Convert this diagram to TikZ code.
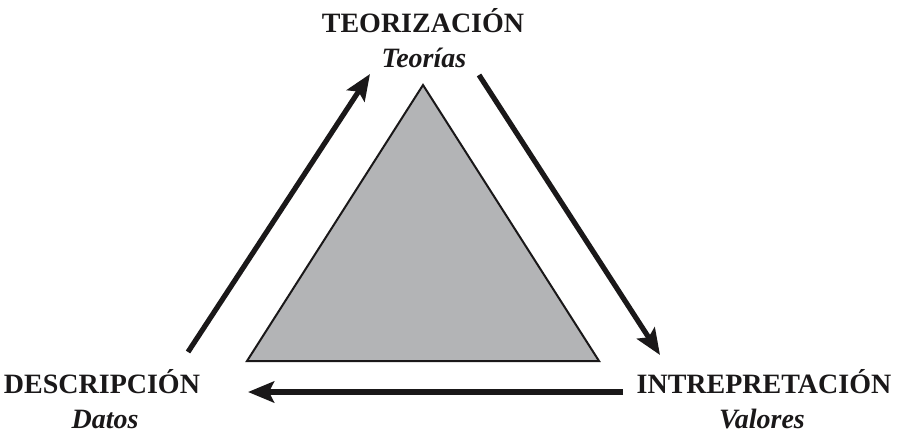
\documentclass[tikz,border=0pt]{standalone}
\usepackage{fontspec}
\setmainfont{Liberation Serif}
\usetikzlibrary{arrows.meta}
\definecolor{trigray}{RGB}{179,180,182}
\definecolor{ink}{RGB}{26,24,25}
\tikzset{
  flow/.style={draw=ink, line width=2.6pt, -{Stealth[length=13pt, width=10.5pt, inset=2.5pt]}},
  head/.style={anchor=base, font=\fontsize{14}{16}\selectfont\bfseries, text=ink, inner sep=0pt},
  sub/.style={anchor=base, font=\fontsize{14}{16}\selectfont\bfseries\itshape, text=ink, inner sep=0pt},
}
\begin{document}
\begin{tikzpicture}[x=0.5pt, y=-0.5pt]
\useasboundingbox (0,0) rectangle (897,433);
% triangle
\draw[fill=trigray, draw=ink, line width=1pt, line join=miter]
  (423,85) -- (247,361) -- (599,361) -- cycle;
% labels
\node[head] (teo) at (423,33) {TEORIZACIÓN};
\node[sub] (teos) at (424,68) {Teorías};
\node[head] (des) at (102,393) {DESCRIPCIÓN};
\node[sub] (dess) at (105,428) {Datos};
\node[head] (int) at (764,393) {INTREPRETACIÓN};
\node[sub] (ints) at (762,428) {Valores};
% arrow ends
\coordinate (a1) at (188,352);
\coordinate (a2) at (370,74);
\coordinate (b1) at (479,75);
\coordinate (b2) at (660,355);
\coordinate (c1) at (623,392);
\coordinate (c2) at (248,392);
\draw[flow] (a1) -- (a2);
\draw[flow] (b1) -- (b2);
\draw[flow] (c1) -- (c2);
\end{tikzpicture}
\end{document}
